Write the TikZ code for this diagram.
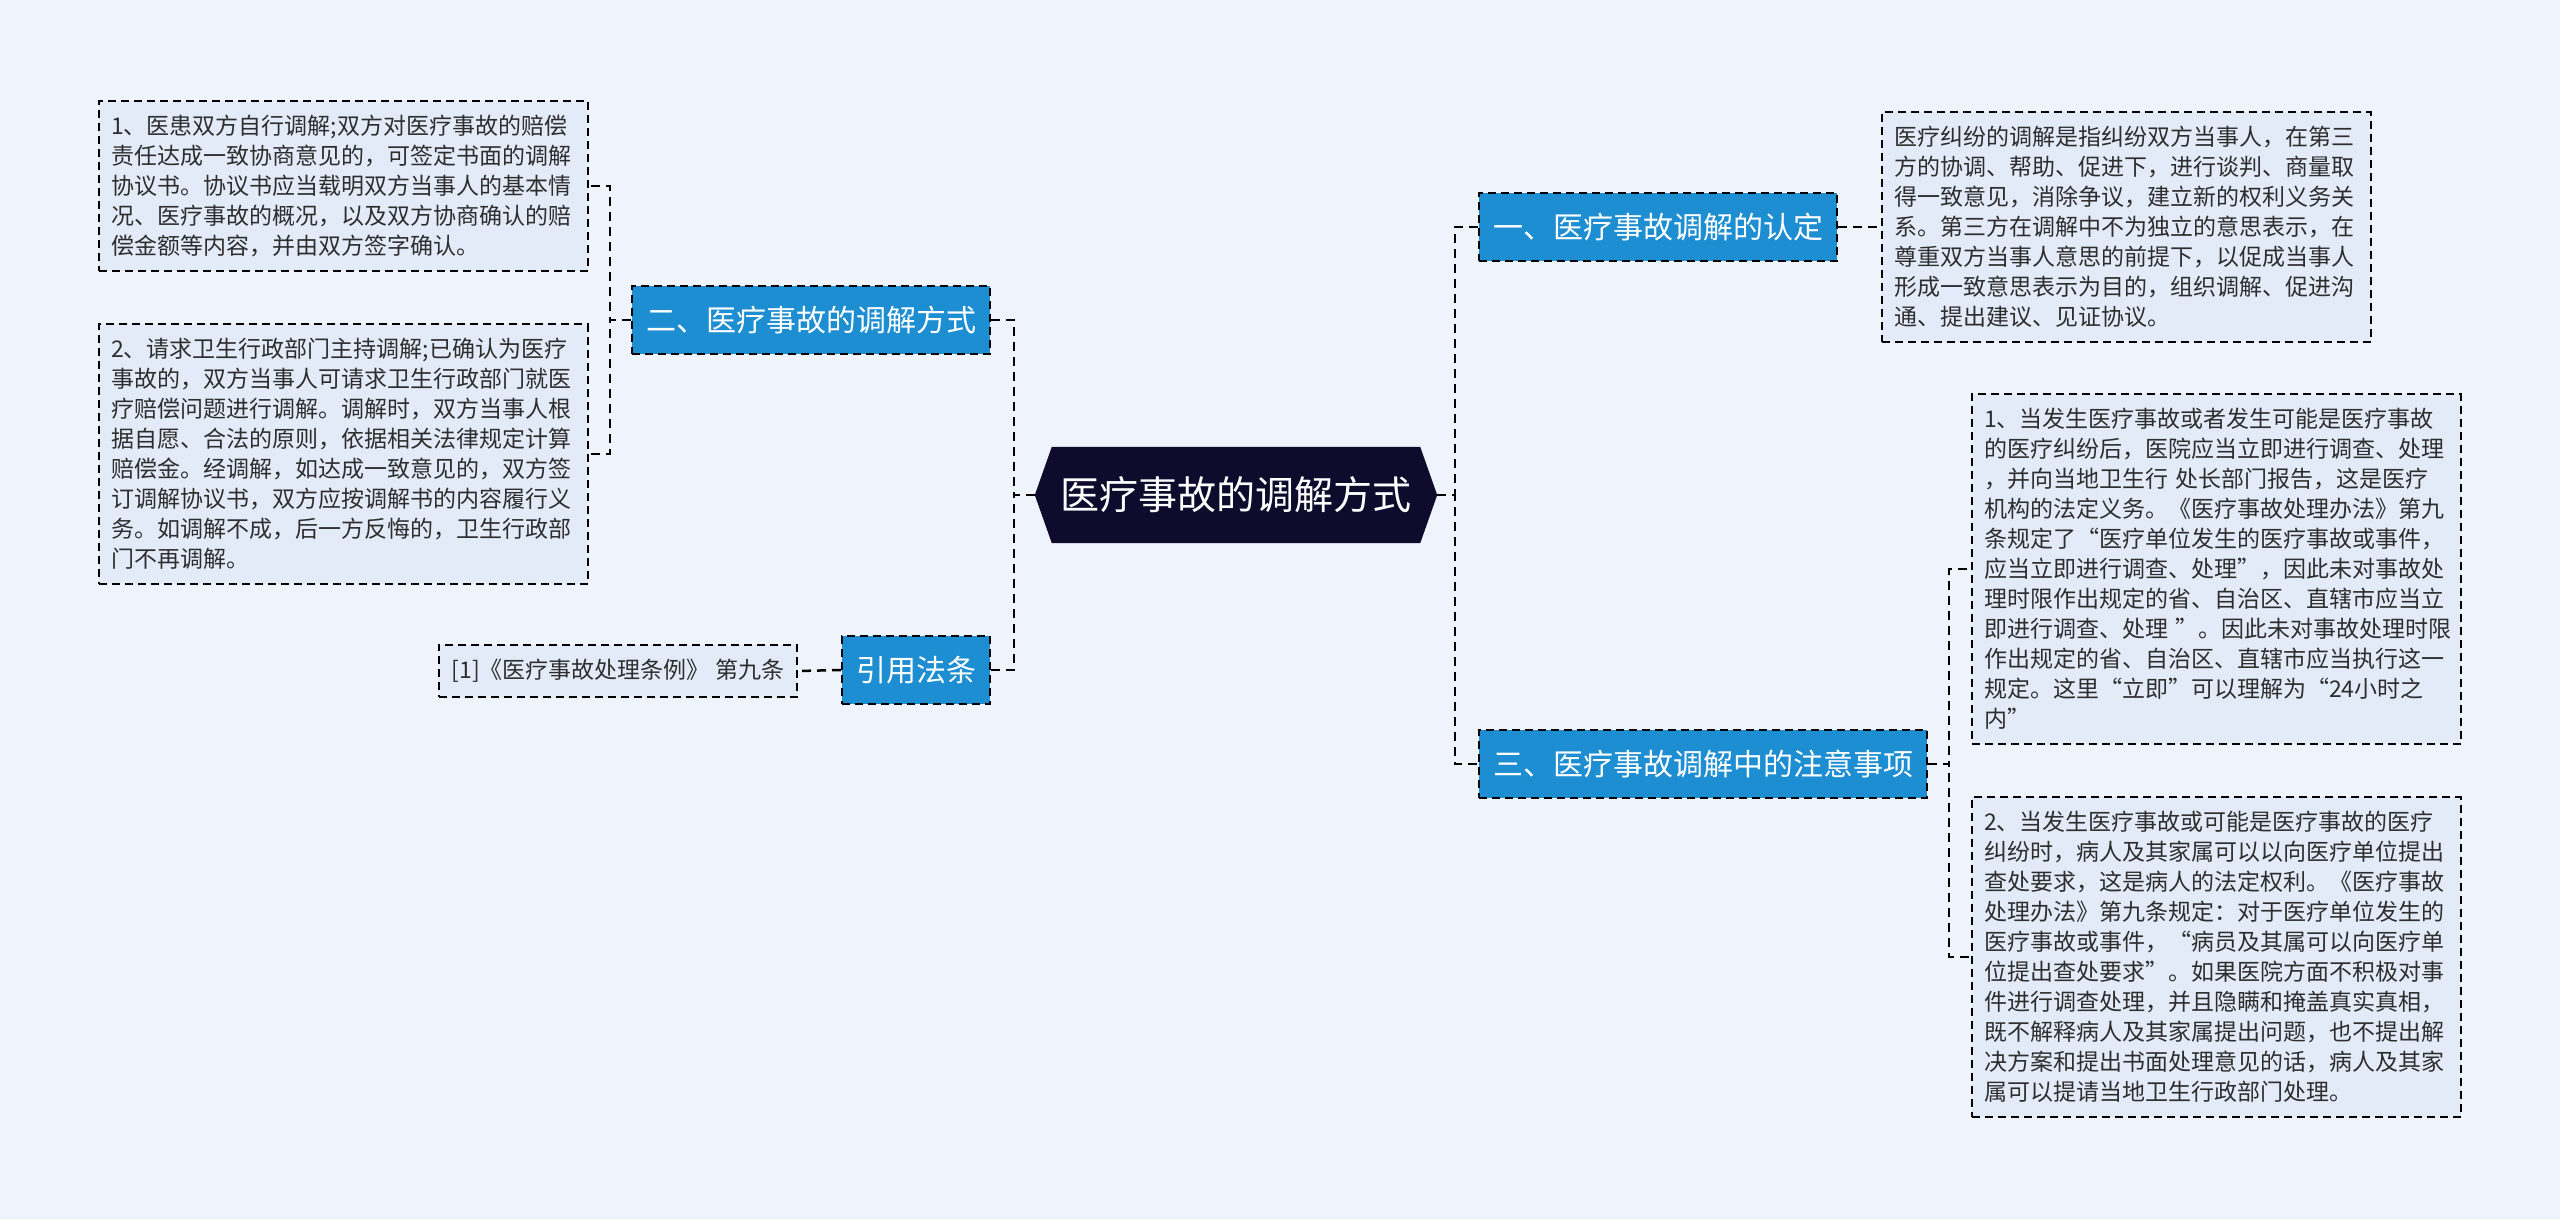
\documentclass[tikz,border=0pt]{standalone}
\usepackage{fontspec}
\setmainfont{Noto Sans CJK SC}
\usetikzlibrary{backgrounds}

\definecolor{pagebg}{HTML}{EEF3FC}
\definecolor{notefill}{HTML}{E3EBF9}
\definecolor{branchblue}{HTML}{1E8ED2}
\definecolor{rootnavy}{HTML}{0E0B2D}
\definecolor{notetext}{HTML}{2E2E2E}

\tikzset{%
  root topic/.style={
    text=white,
    font=\fontsize{39pt}{44pt}\selectfont,
    minimum width=402pt,
    minimum height=96pt,
    inner sep=0pt
  },
  every branch/.style={
    draw=black,
    line width=2pt,
    dash pattern=on 8pt off 5pt,
    fill=branchblue,
    text=white,
    font=\fontsize{30pt}{36pt}\selectfont,
    minimum height=68pt,
    inner xsep=14pt,
    anchor=west
  },
  note base/.style={
    draw=black,
    line width=2pt,
    dash pattern=on 8pt off 5pt,
    fill=notefill,
    text=notetext,
    font=\fontsize{23pt}{30pt}\selectfont,
    anchor=west
  },
  branch note/.style={
    note base,
    text width=465pt,
    align=left,
    inner xsep=12pt,
    inner ysep=14pt
  },
  cite note/.style={
    note base,
    minimum height=52pt,
    inner xsep=13pt
  },
  link/.style={
    draw=black,
    line width=2.5pt,
    dash pattern=on 9pt off 6pt
  },
}

\begin{document}
\begin{tikzpicture}[x=1pt, y=-1pt]

  \begin{scope}[on background layer]
    \fill [pagebg] (0,0) rectangle (2560,1219);
  \end{scope}
  \useasboundingbox (0,0) rectangle (2560,1219);

  % centre topic
  \node [root topic] (root) at (1236,495) {医疗事故的调解方式};
  \begin{scope}[on background layer]
    \fill [rootnavy] (root.west) -- ([xshift=17pt]root.north west)
      -- ([xshift=-17pt]root.north east) -- (root.east)
      -- ([xshift=-17pt]root.south east) -- ([xshift=17pt]root.south west) -- cycle;
  \end{scope}

  % branches
  \node [every branch] (b1) at (1478,227) {一、医疗事故调解的认定};
  \node [every branch] (b3) at (1478,764) {三、医疗事故调解中的注意事项};
  \node [every branch, anchor=east] (b2) at (991,320) {二、医疗事故的调解方式};
  \node [every branch, anchor=east] (b4) at (991,670) {引用法条};

  % notes
  \node [branch note] (n1) at (1881,227) {医疗纠纷的调解是指纠纷双方当事人，在第三\\
    方的协调、帮助、促进下，进行谈判、商量取\\
    得一致意见，消除争议，建立新的权利义务关\\
    系。第三方在调解中不为独立的意思表示，在\\
    尊重双方当事人意思的前提下，以促成当事人\\
    形成一致意思表示为目的，组织调解、促进沟\\
    通、提出建议、见证协议。};

  \node [branch note] (n3a) at (1971,569) {1、当发生医疗事故或者发生可能是医疗事故\\
    的医疗纠纷后，医院应当立即进行调查、处理\\
    ，并向当地卫生行~处长部门报告，这是医疗\\
    机构的法定义务。《医疗事故处理办法》第九\\
    条规定了“医疗单位发生的医疗事故或事件，\\
    应当立即进行调查、处理”，因此未对事故处\\
    理时限作出规定的省、自治区、直辖市应当立\\
    即进行调查、处理~”。因此未对事故处理时限\\
    作出规定的省、自治区、直辖市应当执行这一\\
    规定。这里“立即”可以理解为“24小时之\\
    内”};

  \node [branch note] (n3b) at (1971,957) {2、当发生医疗事故或可能是医疗事故的医疗\\
    纠纷时，病人及其家属可以以向医疗单位提出\\
    查处要求，这是病人的法定权利。《医疗事故\\
    处理办法》第九条规定：对于医疗单位发生的\\
    医疗事故或事件，“病员及其属可以向医疗单\\
    位提出查处要求”。如果医院方面不积极对事\\
    件进行调查处理，并且隐瞒和掩盖真实真相，\\
    既不解释病人及其家属提出问题，也不提出解\\
    决方案和提出书面处理意见的话，病人及其家\\
    属可以提请当地卫生行政部门处理。};

  \node [branch note, anchor=east] (n2a) at (589,186) {1、医患双方自行调解;双方对医疗事故的赔偿\\
    责任达成一致协商意见的，可签定书面的调解\\
    协议书。协议书应当载明双方当事人的基本情\\
    况、医疗事故的概况，以及双方协商确认的赔\\
    偿金额等内容，并由双方签字确认。};

  \node [branch note, anchor=east] (n2b) at (589,454) {2、请求卫生行政部门主持调解;已确认为医疗\\
    事故的，双方当事人可请求卫生行政部门就医\\
    疗赔偿问题进行调解。调解时，双方当事人根\\
    据自愿、合法的原则，依据相关法律规定计算\\
    赔偿金。经调解，如达成一致意见的，双方签\\
    订调解协议书，双方应按调解书的内容履行义\\
    务。如调解不成，后一方反悔的，卫生行政部\\
    门不再调解。};

  \node [cite note, anchor=east] (n4) at (798,671) {[1]《医疗事故处理条例》 第九条};

  % connectors
  \foreach \b in {b1,b3}
    \draw [link] (root.east) -- ++(18,0) |- (\b.west);
  \foreach \b in {b2,b4}
    \draw [link] (root.west) -- ++(-21,0) |- (\b.east);

  \draw [link] (b1.east) -- (n1.west);
  \foreach \n in {n3a,n3b}
    \draw [link] (b3.east) -- ++(21,0) |- (\n.west);
  \foreach \n in {n2a,n2b}
    \draw [link] (b2.west) -- ++(-21,0) |- (\n.east);
  \draw [link] (b4.west) -- (n4.east);

\end{tikzpicture}
\end{document}
